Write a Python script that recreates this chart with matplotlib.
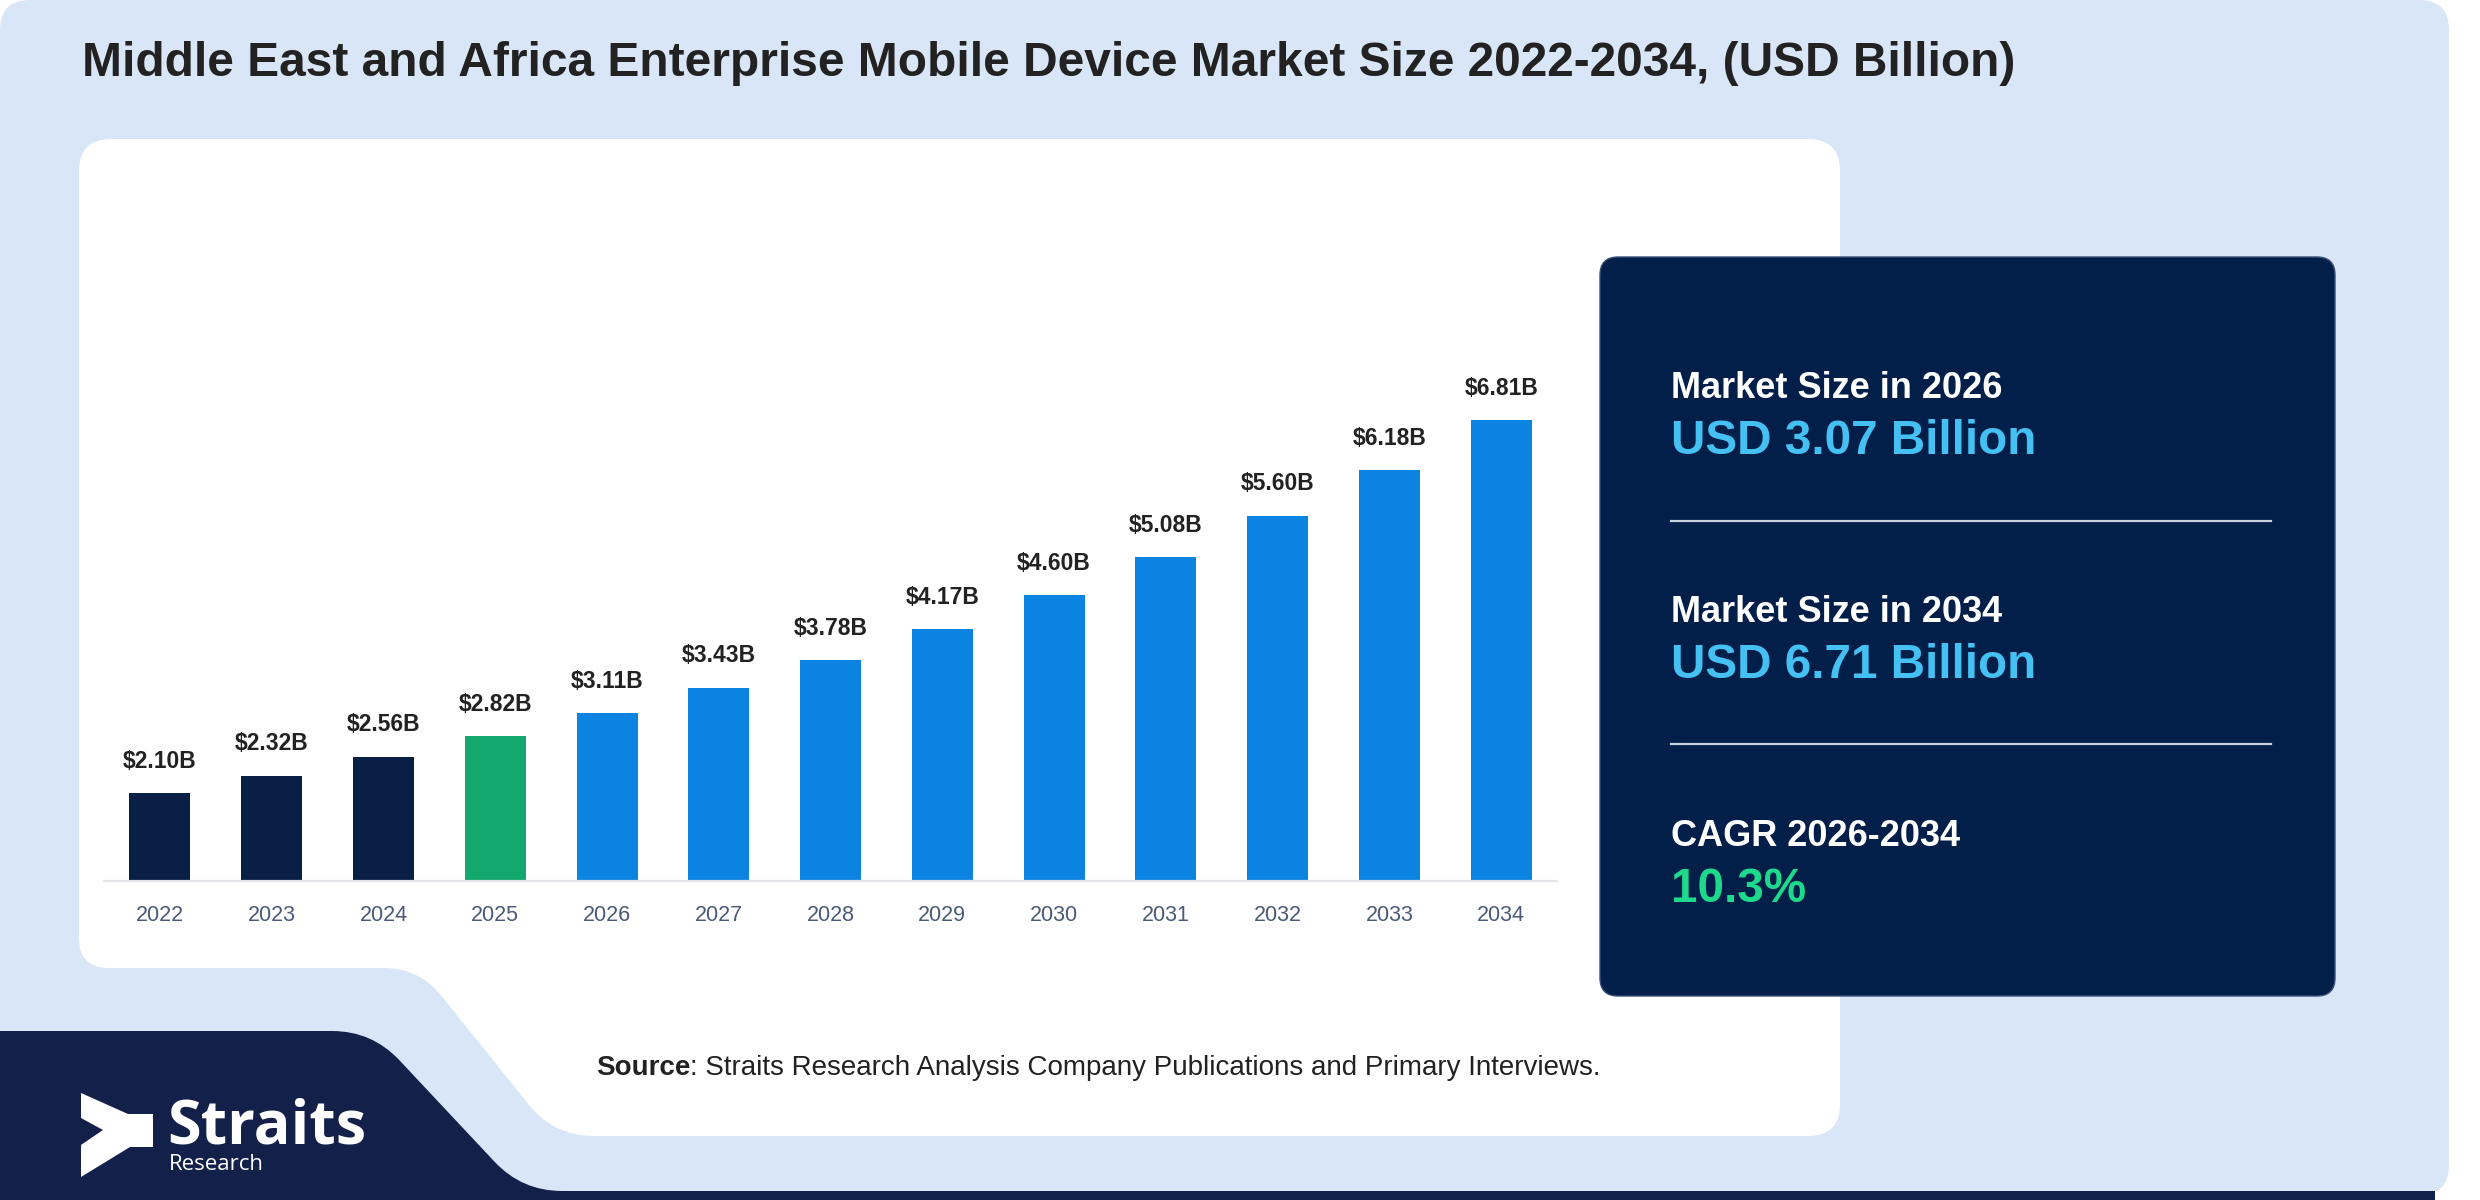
import numpy as np
import matplotlib
matplotlib.use('Agg')
import matplotlib.pyplot as plt
from matplotlib.path import Path
from matplotlib.patches import PathPatch, Polygon

# data
years = ['2022', '2023', '2024', '2025', '2026', '2027', '2028',
         '2029', '2030', '2031', '2032', '2033', '2034']
values = [2.10, 2.32, 2.56, 2.82, 3.11, 3.43, 3.78, 4.17, 4.60, 5.08, 5.60, 6.18, 6.81]
bar_kind = ['hist', 'hist', 'hist', 'base', 'fc', 'fc', 'fc', 'fc', 'fc', 'fc', 'fc', 'fc', 'fc']

title = 'Middle East and Africa Enterprise Mobile Device Market Size 2022-2034, (USD Billion)'
panel_labels = ['Market Size in 2026', 'Market Size in 2034', 'CAGR 2026-2034']
panel_values = ['USD 3.07 Billion', 'USD 6.71 Billion', '10.3%']

NAVY = '#0a1f46'
GREEN = '#13a86e'
BLUE = '#0b84e1'
kind_colors = {'hist': NAVY, 'base': GREEN, 'fc': BLUE}

LIGHT = '#d9e6f8'
PANEL = '#021f4a'
STRIP = '#13204a'

plt.rcParams['font.family'] = ['Liberation Sans', 'DejaVu Sans']

W, H = 2480, 1200


def rounded_path(pts, radii):
    # polygon with quadratic-curve rounded corners
    pts = [np.array(p, dtype=float) for p in pts]
    n = len(pts)
    verts, codes = [], []
    for i in range(n):
        p0, p1, p2 = pts[i - 1], pts[i], pts[(i + 1) % n]
        r = radii[i]
        d1 = (p0 - p1) / np.linalg.norm(p0 - p1)
        d2 = (p2 - p1) / np.linalg.norm(p2 - p1)
        a = p1 + d1 * r
        b = p1 + d2 * r
        verts.append(a)
        codes.append(Path.MOVETO if i == 0 else Path.LINETO)
        verts += [p1, b]
        codes += [Path.CURVE3, Path.CURVE3]
    verts.append(verts[0])
    codes.append(Path.CLOSEPOLY)
    return Path(verts, codes)


fig = plt.figure(figsize=(W / 100, H / 100), dpi=100)
fig.patch.set_facecolor('white')

bg = fig.add_axes([0, 0, 1, 1])
bg.set_xlim(0, W)
bg.set_ylim(H, 0)
bg.axis('off')

# outer light panel
bg.add_patch(PathPatch(rounded_path([(0, 0), (2449, 0), (2449, 1195), (0, 1195)],
                                    [30, 30, 30, 30]), fc=LIGHT, ec='none'))
# dark band bottom-left
bg.add_patch(PathPatch(rounded_path([(0, 1031), (372, 1031), (522, 1191), (2435, 1191),
                                     (2435, 1200), (0, 1200)],
                                    [0, 40, 40, 0, 0, 0]), fc=STRIP, ec='none'))
# white chart card with notch
bg.add_patch(PathPatch(rounded_path([(79, 139), (1840, 139), (1840, 1136), (554, 1136),
                                     (419, 968), (79, 968)],
                                    [32, 32, 32, 40, 35, 30]), fc='white', ec='none'))
# right summary panel
bg.add_patch(PathPatch(rounded_path([(1600, 257), (2335, 257), (2335, 996), (1600, 996)],
                                    [18, 18, 18, 18]), fc=PANEL, ec='#3a4f78', lw=1))

bg.text(82, 64, title, fontsize=34.5, fontweight='bold', color='#222222', va='center', ha='left')

# panel texts
label_y = [398, 622, 846]
value_y = [454, 678, 902]
value_colors = ['#45c0f3', '#45c0f3', '#1dd98b']
for lab, val, ly, vy, vc in zip(panel_labels, panel_values, label_y, value_y, value_colors):
    bg.text(1671, ly, lab, fontsize=26, fontweight='bold', color='white', va='baseline')
    bg.text(1671, vy, val, fontsize=34.3, fontweight='bold', color=vc, va='baseline')
for dy in [521, 744]:
    bg.plot([1671, 2271], [dy, dy], color='#c9d1e0', lw=1.6)

# source line
src = bg.text(596, 1068, 'Source', fontsize=20, fontweight='bold', color='#222222', va='center')
bg.annotate(': Straits Research Analysis Company Publications and Primary Interviews.',
            xy=(1, 0.5), xycoords=src, va='center', ha='left', fontsize=20, color='#222222')

# logo
chev = [(81, 1093), (128, 1114), (153, 1114), (153, 1147), (130, 1147), (81, 1177),
        (81, 1145), (103, 1130), (81, 1118)]
bg.add_patch(Polygon(chev, closed=True, fc='white', ec='none'))
bg.text(167, 1144, 'Straits', fontsize=44, fontweight='bold', color='white',
        family='Open Sans', va='baseline')
bg.text(169, 1170, 'Research', fontsize=16, color='white', family='Open Sans', va='baseline')

# bar chart
x0, x1 = 104.1, 1557.1
ytop, ybase = 200, 881
ymin = 0.99
per_unit = 79.2
ax = fig.add_axes([x0 / W, (H - ybase) / H, (x1 - x0) / W, (ybase - ytop) / H])
ax.patch.set_alpha(0)
xs = np.arange(len(years))
ax.bar(xs, values, width=0.546, color=[kind_colors[k] for k in bar_kind], zorder=2)
ax.set_xlim(-0.5, len(years) - 0.5)
ax.set_ylim(ymin, ymin + (ybase - ytop) / per_unit)
for xi, v in zip(xs, values):
    ax.annotate(f'${v:.2f}B', (xi, v), xytext=(0, 23), textcoords='offset points',
                ha='center', va='center', fontsize=16.5, fontweight='bold', color='#222222')
ax.set_xticks(xs)
ax.set_xticklabels(years, fontsize=15.5, color='#4a5a78')
ax.tick_params(axis='x', length=0, pad=17)
ax.set_yticks([])
for s in ['left', 'right', 'top']:
    ax.spines[s].set_visible(False)
ax.spines['bottom'].set_color('#e2e4e8')
ax.spines['bottom'].set_linewidth(1.6)

fig.savefig('out.png', dpi=100, facecolor=fig.get_facecolor())
